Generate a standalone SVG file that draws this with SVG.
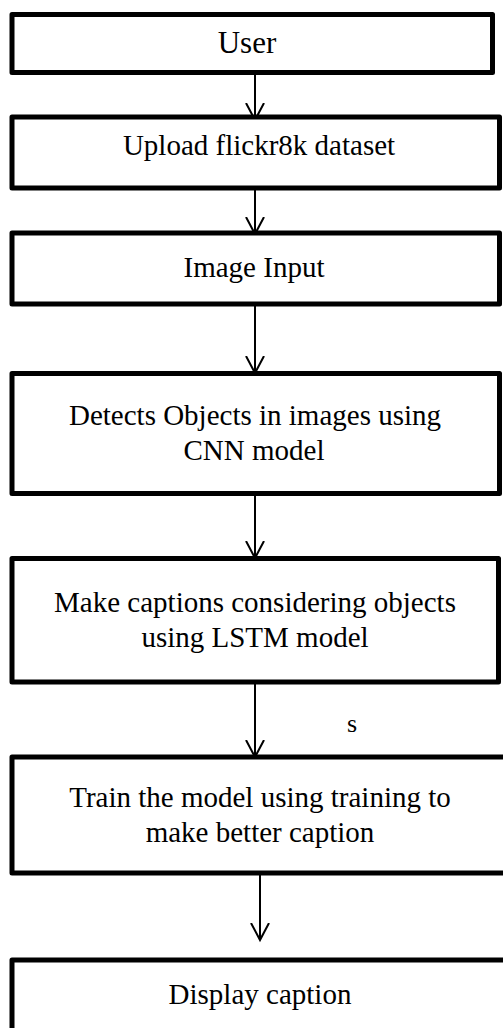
<svg xmlns="http://www.w3.org/2000/svg" width="503" height="1028" viewBox="0 0 503 1028">
<defs>
<style>
.box{fill:#fff;stroke:#000;stroke-width:5;stroke-linejoin:round}
.t{font-family:"Liberation Serif","Times New Roman",serif;font-size:29px;fill:#000;text-anchor:middle}
.c{stroke:#000;stroke-width:2;fill:none}
</style>
<marker id="ah" markerWidth="22" markerHeight="22" refX="17" refY="10" orient="auto" markerUnits="userSpaceOnUse">
<path d="M0,1 L17,10 L0,19" fill="none" stroke="#000" stroke-width="2"/>
</marker>
</defs>
<rect width="503" height="1028" fill="#fff"/>
<g id="connectors">
<line class="c" x1="255" y1="72" x2="255" y2="120" marker-end="url(#ah)"/>
<line class="c" x1="255" y1="188" x2="255" y2="234" marker-end="url(#ah)"/>
<line class="c" x1="255" y1="304" x2="255" y2="373" marker-end="url(#ah)"/>
<line class="c" x1="255" y1="493" x2="255" y2="558" marker-end="url(#ah)"/>
<line class="c" x1="255" y1="682" x2="255" y2="757" marker-end="url(#ah)"/>
<line class="c" x1="260" y1="873" x2="260" y2="940" marker-end="url(#ah)"/>
<text x="347" y="732" style="font-family:'Liberation Serif','Times New Roman',serif;font-size:26px;fill:#000">s</text>
</g>
<g id="n1"><rect class="box" x="12" y="14.5" width="480.5" height="58"/><text class="t" x="247" y="53" style="font-size:31px">User</text></g>
<g id="n2"><rect class="box" x="12" y="117" width="487.5" height="71"/><text class="t" x="259" y="155">Upload flickr8k dataset</text></g>
<g id="n3"><rect class="box" x="12" y="233" width="487.5" height="71"/><text class="t" x="254" y="277">Image Input</text></g>
<g id="n4"><rect class="box" x="12" y="373.5" width="487.5" height="120"/><text class="t" x="255" y="425">Detects Objects in images using</text><text class="t" x="254" y="460">CNN model</text></g>
<g id="n5"><rect class="box" x="12" y="558.5" width="486.5" height="123.5"/><text class="t" x="255" y="612">Make captions considering objects</text><text class="t" x="255" y="647">using LSTM model</text></g>
<g id="n6"><rect class="box" x="12" y="757" width="500" height="116"/><text class="t" x="260" y="807">Train the model using training to</text><text class="t" x="260" y="842">make better caption</text></g>
<g id="n7"><rect class="box" x="12" y="960" width="500" height="80"/><text class="t" x="260" y="1004">Display caption</text></g>
</svg>
